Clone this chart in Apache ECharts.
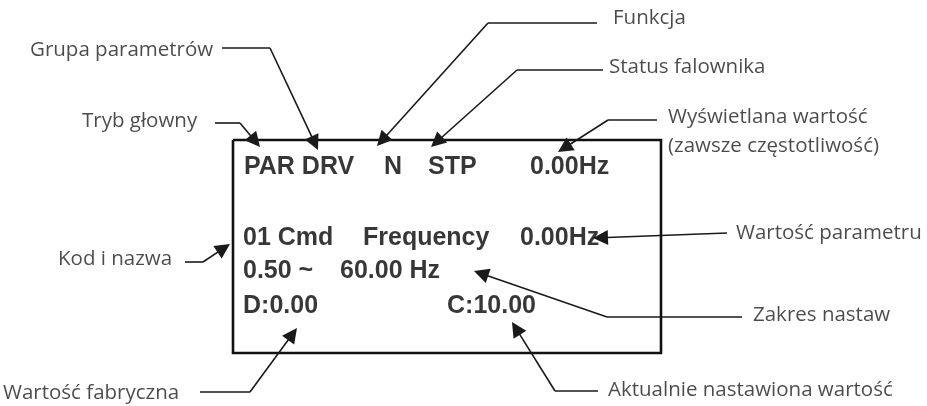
<!DOCTYPE html>
<html>
<head>
<meta charset="utf-8">
<script src="https://cdn.jsdelivr.net/npm/echarts@6/dist/echarts.min.js"></script>
<style>
html,body{margin:0;padding:0;background:#fff;}
#chart{width:927px;height:406px;}
</style>
</head>
<body>
<div id="chart"></div>
<script>
// Display panel texts (text, left x, cap-centre y)
var displayTexts = ['PAR DRV', 'N', 'STP', '0.00Hz', '01 Cmd', 'Frequency', '0.00Hz', '0.50 ~', '60.00 Hz', 'D:0.00', 'C:10.00'];
var displayX = [244, 384, 428, 530, 243, 363, 520, 243, 340, 243, 447];
var displayY = [167.5, 167.5, 167.5, 167.5, 238, 238, 238, 271, 271, 306.5, 306.5];

// Callout labels
var calloutTexts = ['Grupa parametrów', 'Tryb głowny', 'Funkcja', 'Status falownika',
  'Wyświetlana wartość\n(zawsze częstotliwość)', 'Kod i nazwa', 'Wartość fabryczna',
  'Wartość parametru', 'Zakres nastaw', 'Aktualnie nastawiona wartość'];
var calloutX = [30, 82, 613, 609, 668, 58, 3, 736, 753, 608];
var calloutY = [50, 121.5, 18, 67, 132, 259, 393, 233, 315, 390];

// Leader lines: start, elbow, arrow tip
var leaderStart = [[222,48],[215,123],[597,23],[603,70],[657,120],[185,262],[200,392],[727,233],[742,317],[598,391]];
var leaderElbow = [[270,48],[240,123],[488,23],[517,70],[608,120],[203,262],[250,392],[727,233],[607,317],[555,391]];
var leaderTip   = [[318,150],[260,147],[377,146],[431,147],[558,152],[230,244],[297,328],[593,238],[474,271],[512,322]];

// Display frame corners
var frameCorners = [[233,140],[661,140],[661,353],[233,353],[233,140]];

var ARROW_LEN = 15, ARROW_W = 12;

var horizSegs = [], diagSegs = [];
for (var i = 0; i < leaderStart.length; i++) {
  var s = leaderStart[i], e = leaderElbow[i], t = leaderTip[i];
  if (s[0] !== e[0] || s[1] !== e[1]) horizSegs.push({coords: [s, e]});
  var dx = t[0] - e[0], dy = t[1] - e[1];
  var L = Math.sqrt(dx*dx + dy*dy);
  var end = [t[0] - dx / L * ARROW_LEN / 2, t[1] - dy / L * ARROW_LEN / 2];
  diagSegs.push({coords: [e, end]});
}

var chart = echarts.init(document.getElementById('chart'), null, {renderer: 'canvas'});

var option = {
  animation: false,
  backgroundColor: '#ffffff',
  grid: {left: 0, right: 0, top: 0, bottom: 0},
  xAxis: {type: 'value', min: 0, max: 927, show: false},
  yAxis: {type: 'value', min: 0, max: 406, inverse: true, show: false},
  series: [
    {
      type: 'lines', coordinateSystem: 'cartesian2d', polyline: true,
      data: [{coords: frameCorners}],
      lineStyle: {color: '#111', width: 2.6, opacity: 1},
      silent: true
    },
    {
      type: 'lines', coordinateSystem: 'cartesian2d',
      data: horizSegs, symbol: ['none', 'none'],
      lineStyle: {color: '#1a1a1a', width: 1.6, opacity: 1, curveness: 0},
      silent: true
    },
    {
      type: 'lines', coordinateSystem: 'cartesian2d',
      data: diagSegs, symbol: ['none', 'triangle'], symbolSize: [ARROW_W, ARROW_LEN],
      lineStyle: {color: '#1a1a1a', width: 1.6, opacity: 1, curveness: 0},
      itemStyle: {color: '#000'},
      silent: true
    },
    {
      type: 'scatter', symbolSize: 0,
      data: displayTexts.map(function (t, i) { return {name: t, value: [displayX[i], displayY[i]]}; }),
      label: {
        show: true, position: [0, 0], align: 'left', verticalAlign: 'middle',
        formatter: '{b}', fontFamily: 'Liberation Sans', fontWeight: 'bold', fontSize: 25, color: '#050505'
      },
      silent: true
    },
    {
      type: 'scatter', symbolSize: 0,
      data: calloutTexts.map(function (t, i) { return {name: t, value: [calloutX[i], calloutY[i]]}; }),
      label: {
        show: true, position: [0, 0], align: 'left', verticalAlign: 'middle',
        formatter: '{b}', fontFamily: 'Open Sans', fontSize: 20.5, lineHeight: 29, color: '#1e1e1e'
      },
      silent: true
    }
  ]
};
chart.setOption(option);
</script>
</body>
</html>
